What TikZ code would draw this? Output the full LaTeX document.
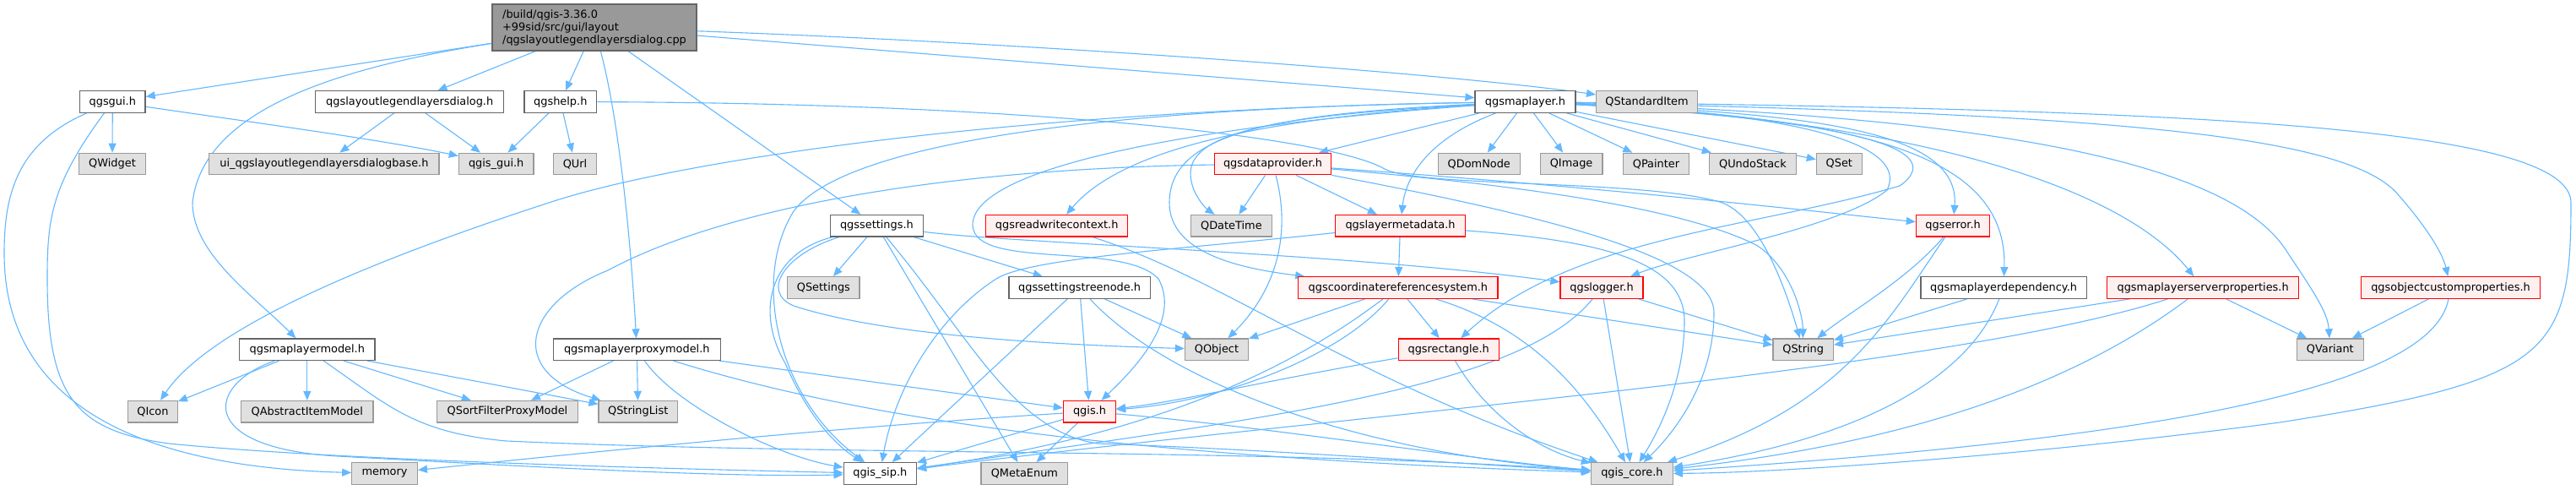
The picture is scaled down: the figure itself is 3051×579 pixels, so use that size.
\documentclass[tikz,border=0pt]{standalone}
\usepackage{fontspec}
\setmainfont{DejaVu Sans}
\usetikzlibrary{arrows.meta}
\definecolor{edgec}{HTML}{63B8FF}
\definecolor{gfill}{HTML}{E0E0E0}
\definecolor{gline}{HTML}{999999}
\definecolor{wline}{HTML}{666666}
\definecolor{rfill}{HTML}{FFF0F0}
\definecolor{rline}{HTML}{FF0000}
\definecolor{rootfill}{HTML}{999999}
\pgfdeclarelayer{back}
\pgfdeclarelayer{edges}
\pgfsetlayers{back,edges,main}
\tikzset{
  nbox/.style={draw, line width=1.2pt, inner sep=0pt, minimum height=25.6pt, text=black,
    font=\fontsize{12.9pt}{15pt}\selectfont},
  gbox/.style={nbox, fill=gfill, draw=gline},
  wbox/.style={nbox, fill=white, draw=wline},
  rbox/.style={nbox, fill=rfill, draw=rline},
  rootbox/.style={nbox, fill=rootfill, draw=wline},
  ed/.style={draw=edgec, line width=1.1pt, -{Triangle[length=11pt,width=9pt]}},
}
\begin{document}
\begin{tikzpicture}[x=1pt,y=-1pt]
\begin{pgfonlayer}{back}
\fill[white] (0,0) rectangle (3051,579);
\end{pgfonlayer}
\useasboundingbox (0,0) rectangle (3051,579);

% ---------- nodes ----------
\node[rootbox, minimum width=242pt, minimum height=55pt, align=left] (root) at (704,32.5)
  {/build/qgis-3.36.0\\+99sid/src/gui/layout\\/qgslayoutlegendlayersdialog.cpp};
\node[wbox, minimum width=77.5pt]  (gui)      at (133.3,120.5) {qgsgui.h};
\node[wbox, minimum width=223pt]   (lld)      at (485.2,120.5) {qgslayoutlegendlayersdialog.h};
\node[wbox, minimum width=85.8pt]  (help)     at (663.8,120.5) {qgshelp.h};
\node[wbox, minimum width=119pt]   (mlayer)   at (1806.5,120.5) {qgsmaplayer.h};
\node[gbox, minimum width=119.7pt] (qstd)     at (1950.5,120.5) {QStandardItem};

\node[gbox, minimum width=79pt]    (qwidget)  at (133,194) {QWidget};
\node[gbox, minimum width=272.3pt] (uibase)   at (383.9,194) {ui\_qgslayoutlegendlayersdialogbase.h};
\node[gbox, minimum width=88.6pt]  (qgisgui)  at (587.7,194) {qgis\_gui.h};
\node[gbox, minimum width=51.4pt]  (qurl)     at (681,194) {QUrl};
\node[rbox, minimum width=138.3pt] (dprov)    at (1507.5,194) {qgsdataprovider.h};
\node[gbox, minimum width=97.4pt]  (qdomnode) at (1751.8,194) {QDomNode};
\node[gbox, minimum width=73.6pt]  (qimage)   at (1861.1,194) {QImage};
\node[gbox, minimum width=77.5pt]  (qpainter) at (1961.5,194) {QPainter};
\node[gbox, minimum width=102.7pt] (qundo)    at (2075.9,194) {QUndoStack};
\node[gbox, minimum width=53.8pt]  (qset)     at (2178.3,194) {QSet};

\node[wbox, minimum width=109.6pt] (settings) at (1038.4,267.2) {qgssettings.h};
\node[rbox, minimum width=167.7pt] (rwctx)    at (1251.7,267.2) {qgsreadwritecontext.h};
\node[gbox, minimum width=95.5pt]  (qdatetime) at (1458.4,267.2) {QDateTime};
\node[rbox, minimum width=154.2pt] (layermeta) at (1658.5,267.2) {qgslayermetadata.h};
\node[rbox, minimum width=87.4pt]  (qgserror) at (2313.1,267.2) {qgserror.h};

\node[gbox, minimum width=85.3pt]  (qsettings) at (975.4,340.5) {QSettings};
\node[wbox, minimum width=167.2pt] (stnode)   at (1278.6,340.5) {qgssettingstreenode.h};
\node[rbox, minimum width=236.1pt] (crs)      at (1655.9,340.5) {qgscoordinatereferencesystem.h};
\node[rbox, minimum width=97.9pt]  (logger)   at (1897,340.5) {qgslogger.h};
\node[wbox, minimum width=196.2pt] (mldep)    at (2373.1,340.5) {qgsmaplayerdependency.h};
\node[rbox, minimum width=226.8pt] (mlsp)     at (2609.1,340.5) {qgsmaplayerserverproperties.h};
\node[rbox, minimum width=211.6pt] (ocp)      at (2902.5,340.5) {qgsobjectcustomproperties.h};

\node[wbox, minimum width=160.5pt] (mlmodel)  at (363.8,413.7) {qgsmaplayermodel.h};
\node[wbox, minimum width=197.9pt] (proxy)    at (754.3,413.7) {qgsmaplayerproxymodel.h};
\node[gbox, minimum width=75.1pt]  (qobject)  at (1441,413.7) {QObject};
\node[rbox, minimum width=119.2pt] (rect)     at (1715.7,413.7) {qgsrectangle.h};
\node[gbox, minimum width=71.3pt]  (qstring)  at (2135.7,413.7) {QString};
\node[gbox, minimum width=78.7pt]  (qvariant) at (2759.8,413.7) {QVariant};

\node[gbox, minimum width=58.7pt]  (qicon)    at (181,487.2) {QIcon};
\node[gbox, minimum width=156.5pt] (qaim)     at (363.8,487.2) {QAbstractItemModel};
\node[gbox, minimum width=167.7pt] (qsfpm)    at (601,487.2) {QSortFilterProxyModel};
\node[gbox, minimum width=93.3pt]  (qstrlist) at (755.7,487.2) {QStringList};
\node[rbox, minimum width=62.1pt]  (qgish)    at (1290.5,487.2) {qgis.h};

\node[gbox, minimum width=77.6pt]  (memory)   at (455.6,560.5) {memory};
\node[wbox, minimum width=86.3pt]  (qgissip)  at (1042.3,560.5) {qgis\_sip.h};
\node[gbox, minimum width=102.8pt] (qmetaenum) at (1213.4,560.5) {QMetaEnum};
\node[gbox, minimum width=96.9pt]  (qgiscore) at (1932.9,560.5) {qgis\_core.h};

% ---------- edges ----------
\begin{pgfonlayer}{edges}
% root
\draw[ed] (root) -- (gui);
\draw[ed] (root) -- (lld);
\draw[ed] (root) -- (help);
\draw[ed] (root) .. controls (400,80) and (240,130) .. (228,240) .. controls (228,300) and (300,350) .. (mlmodel);
\draw[ed] (root) .. controls (735,150) and (748,300) .. (proxy);
\draw[ed] (root) -- (settings);
\draw[ed] (root) -- (mlayer);
\draw[ed] (root) .. controls (1200,50) and (1700,85) .. (qstd);
% qgsgui.h
\draw[ed] (gui) -- (qwidget);
\draw[ed] (gui) .. controls (300,145) and (450,165) .. (qgisgui);
\draw[ed] (gui) .. controls (20,170) and (5,230) .. (5,300) .. controls (5,520) and (250,555) .. (memory);
\draw[ed] (gui) .. controls (60,220) and (56,260) .. (56,330) .. controls (56,470) and (90,510) .. (200,525) .. controls (400,545) and (800,555) .. (qgissip);
% dialog / help
\draw[ed] (lld) -- (uibase);
\draw[ed] (lld) -- (qgisgui);
\draw[ed] (help) -- (qgisgui);
\draw[ed] (help) -- (qurl);
\draw[ed] (help) .. controls (1200,122) and (1570,160) .. (1640,200) .. controls (1680,222) and (1950,212) .. (2040,240) .. controls (2090,260) and (2120,360) .. (qstring);
% qgsmaplayermodel.h
\draw[ed] (mlmodel) -- (qicon);
\draw[ed] (mlmodel) -- (qaim);
\draw[ed] (mlmodel) -- (qsfpm);
\draw[ed] (mlmodel) -- (qstrlist);
\draw[ed] (mlmodel) .. controls (245,455) and (230,530) .. (400,540) .. controls (550,548) and (850,566) .. (qgissip);
\draw[ed] (mlmodel) .. controls (460,480) and (490,512) .. (600,522) .. controls (1000,540) and (1500,530) .. (qgiscore);
% qgsmaplayerproxymodel.h
\draw[ed] (proxy) -- (qsfpm);
\draw[ed] (proxy) -- (qstrlist);
\draw[ed] (proxy) -- (qgish);
\draw[ed] (proxy) .. controls (800,480) and (920,540) .. (qgissip);
\draw[ed] (proxy) .. controls (1000,490) and (1300,540) .. (qgiscore);
% qgssettings.h
\draw[ed] (settings) -- (qsettings);
\draw[ed] (settings) -- (stnode);
\draw[ed] (settings) -- (qmetaenum);
\draw[ed] (settings) .. controls (1200,288) and (1600,300) .. (logger);
\draw[ed] (settings) .. controls (930,300) and (900,345) .. (940,362) .. controls (1050,398) and (1250,408) .. (qobject);
\draw[ed] (settings) .. controls (910,300) and (895,370) .. (930,430) .. controls (960,500) and (995,530) .. (qgissip);
\draw[ed] (settings) .. controls (1150,400) and (1200,510) .. (1300,525) .. controls (1500,532) and (1750,550) .. (qgiscore);
% qgssettingstreenode.h
\draw[ed] (stnode) -- (qgissip);
\draw[ed] (stnode) -- (qgish);
\draw[ed] (stnode) -- (qobject);
\draw[ed] (stnode) .. controls (1380,450) and (1600,535) .. (qgiscore);
% qgsmaplayer.h
\draw[ed] (mlayer) -- (qdomnode);
\draw[ed] (mlayer) -- (qimage);
\draw[ed] (mlayer) -- (qpainter);
\draw[ed] (mlayer) -- (qundo);
\draw[ed] (mlayer) -- (qset);
\draw[ed] (mlayer) -- (dprov);
\draw[ed] (mlayer) .. controls (1690,165) and (1665,210) .. (layermeta);
\draw[ed] (mlayer) .. controls (1550,135) and (1410,150) .. (1410,205) .. controls (1410,230) and (1430,248) .. (qdatetime);
\draw[ed] (mlayer) .. controls (1500,140) and (1330,175) .. (rwctx);
\draw[ed] (mlayer) .. controls (1400,150) and (1150,200) .. (1152,267) .. controls (1155,320) and (1330,285) .. (1372,330) .. controls (1400,380) and (1340,440) .. (qgish);
\draw[ed] (mlayer) .. controls (1300,128) and (1000,170) .. (940,250) .. controls (890,330) and (920,470) .. (qgissip);
\draw[ed] (mlayer) .. controls (1200,130) and (800,190) .. (650,240) .. controls (450,305) and (250,385) .. (qicon);
\draw[ed] (mlayer) .. controls (1500,135) and (1385,160) .. (1385,240) .. controls (1385,300) and (1470,318) .. (crs);
\draw[ed] (mlayer) .. controls (2150,135) and (2260,175) .. (2235,225) .. controls (2180,270) and (2000,300) .. (logger);
\draw[ed] (mlayer) .. controls (2150,140) and (2320,170) .. (2250,220) .. controls (2080,270) and (1860,280) .. (rect);
\draw[ed] (mlayer) .. controls (2150,135) and (2322,155) .. (qgserror);
\draw[ed] (mlayer) .. controls (2200,140) and (2378,180) .. (mldep);
\draw[ed] (mlayer) .. controls (2300,145) and (2520,230) .. (mlsp);
\draw[ed] (mlayer) .. controls (2400,140) and (2650,200) .. (2710,300) .. controls (2740,345) and (2757,370) .. (qvariant);
\draw[ed] (mlayer) .. controls (2500,135) and (2780,160) .. (2840,230) .. controls (2875,270) and (2893,300) .. (ocp);
\draw[ed] (mlayer) .. controls (2600,130) and (3045,150) .. (3045,240) .. controls (3045,420) and (3020,450) .. (2700,500) .. controls (2400,540) and (2100,560) .. (qgiscore);
% qgsdataprovider.h
\draw[ed] (dprov) -- (qdatetime);
\draw[ed] (dprov) -- (layermeta);
\draw[ed] (dprov) .. controls (1530,280) and (1510,345) .. (qobject);
\draw[ed] (dprov) .. controls (1100,200) and (850,250) .. (720,320) .. controls (620,360) and (600,440) .. (qstrlist);
\draw[ed] (dprov) .. controls (1900,222) and (2100,245) .. (qgserror);
\draw[ed] (dprov) .. controls (1750,215) and (1980,240) .. (2080,290) .. controls (2120,315) and (2135,370) .. (qstring);
\draw[ed] (dprov) .. controls (1800,250) and (2030,300) .. (2030,370) .. controls (2030,450) and (1985,510) .. (qgiscore);
% qgsreadwritecontext.h
\draw[ed] (rwctx) .. controls (1450,330) and (1600,450) .. (qgiscore);
% qgslayermetadata.h
\draw[ed] (layermeta) -- (crs);
\draw[ed] (layermeta) .. controls (1400,295) and (1220,305) .. (1180,330) .. controls (1110,375) and (1060,460) .. (qgissip);
\draw[ed] (layermeta) .. controls (1900,285) and (1995,310) .. (1995,380) .. controls (1995,450) and (1965,510) .. (qgiscore);
% qgscoordinatereferencesystem.h
\draw[ed] (crs) -- (qobject);
\draw[ed] (crs) -- (rect);
\draw[ed] (crs) -- (qstring);
\draw[ed] (crs) .. controls (1820,390) and (1880,470) .. (qgiscore);
\draw[ed] (crs) .. controls (1550,420) and (1400,510) .. (qgissip);
\draw[ed] (crs) .. controls (1590,420) and (1450,475) .. (qgish);
% qgsrectangle.h
\draw[ed] (rect) .. controls (1500,450) and (1400,475) .. (qgish);
\draw[ed] (rect) .. controls (1760,490) and (1820,532) .. (qgiscore);
% qgslogger.h
\draw[ed] (logger) -- (qgiscore);
\draw[ed] (logger) -- (qstring);
\draw[ed] (logger) .. controls (1800,460) and (1500,495) .. (qgissip);
% qgserror.h
\draw[ed] (qgserror) .. controls (2260,330) and (2190,370) .. (qstring);
\draw[ed] (qgserror) .. controls (2235,380) and (2185,480) .. (qgiscore);
% qgsmaplayerdependency.h
\draw[ed] (mldep) -- (qstring);
\draw[ed] (mldep) .. controls (2330,450) and (2200,520) .. (qgiscore);
% qgsmaplayerserverproperties.h
\draw[ed] (mlsp) -- (qstring);
\draw[ed] (mlsp) -- (qvariant);
\draw[ed] (mlsp) .. controls (2300,440) and (1600,490) .. (qgissip);
\draw[ed] (mlsp) .. controls (2450,460) and (2250,525) .. (qgiscore);
% qgsobjectcustomproperties.h
\draw[ed] (ocp) -- (qvariant);
\draw[ed] (ocp) .. controls (2880,460) and (2550,520) .. (qgiscore);
% qgis.h
\draw[ed] (qgish) -- (qgissip);
\draw[ed] (qgish) -- (qmetaenum);
\draw[ed] (qgish) .. controls (1500,505) and (1750,545) .. (qgiscore);
\draw[ed] (qgish) .. controls (1000,505) and (700,535) .. (memory);
\end{pgfonlayer}
\end{tikzpicture}
\end{document}
